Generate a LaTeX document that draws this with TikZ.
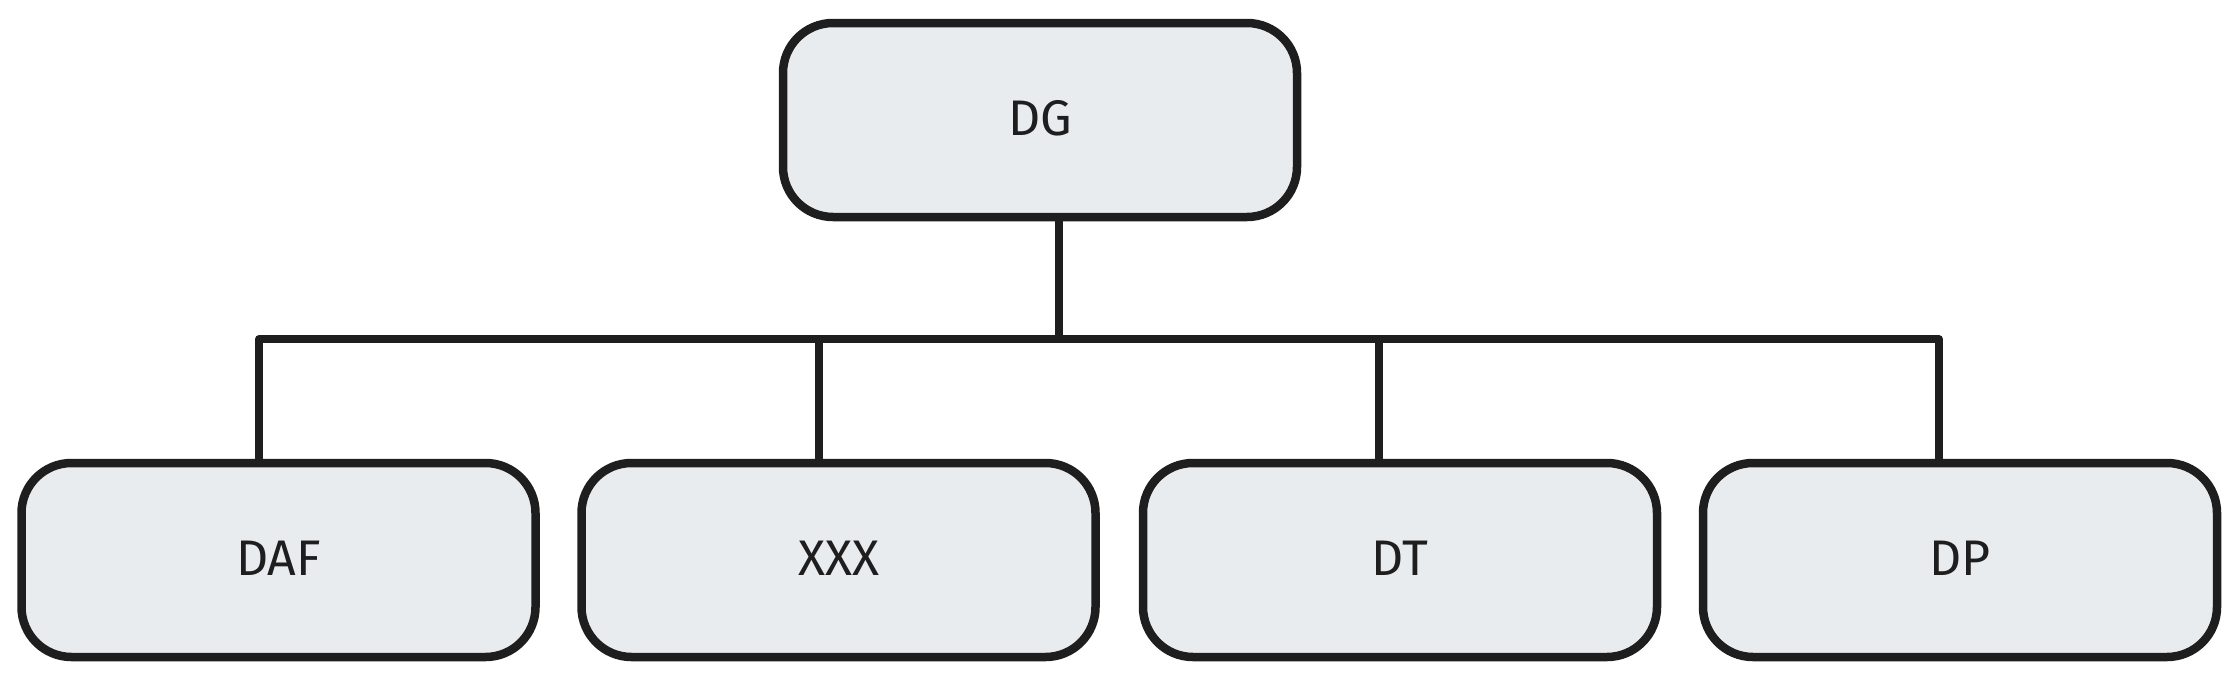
\documentclass[tikz,border=0pt]{standalone}
\usepackage{fontspec}
\setmainfont{Fira Sans}
\definecolor{ink}{HTML}{1E1E1E}
\definecolor{boxfill}{HTML}{E9ECEF}
\begin{document}
\begin{tikzpicture}[x=1pt,y=-1pt,
  card/.style={draw=ink, fill=boxfill, line width=8.5pt, rounded corners=50pt,
    minimum width=514pt, minimum height=194pt, inner sep=0pt,
    font=\fontsize{50}{60}\selectfont, text=ink},
  link/.style={draw=ink, line width=7.5pt, line join=round}]
\useasboundingbox (0,0) rectangle (2240,680);
\fill[white] (0,0) rectangle (2240,680);
\node[card] (top) at (1040,120) {\raisebox{4pt}{DG}};
\node[card] (d1) at (278.5,560) {\raisebox{4pt}{DAF}};
\node[card] (d2) at (838.5,560) {\raisebox{4pt}{XXX}};
\node[card] (d3) at (1400,560) {\raisebox{4pt}{DT}};
\node[card] (d4) at (1960,560) {\raisebox{4pt}{DP}};
\coordinate (hub) at (1059,339);
\coordinate (c1) at (259,339);
\coordinate (c2) at (819,339);
\coordinate (c3) at (1379,339);
\coordinate (c4) at (1939,339);
\draw[link] (top.south -| hub) -- (hub);
\draw[link] (d1.north -| c1) -- (c1) -- (c4) -- (d4.north -| c4);
\draw[link] (c2) -- (d2.north -| c2);
\draw[link] (c3) -- (d3.north -| c3);
\end{tikzpicture}
\end{document}
